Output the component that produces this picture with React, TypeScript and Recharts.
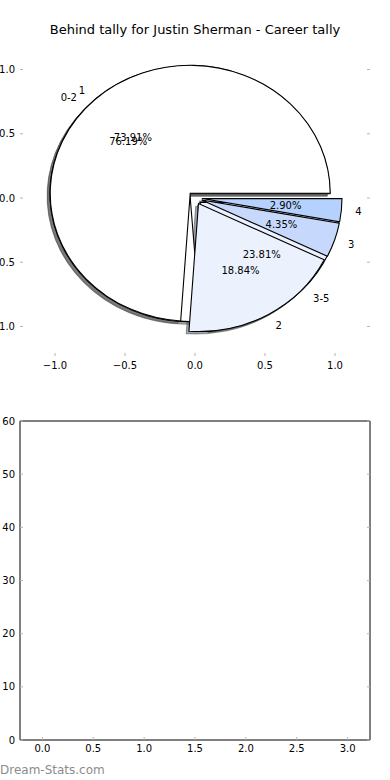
import React from 'react'
import { PieChart, Pie, ScatterChart, Scatter, XAxis, YAxis } from 'recharts'

// inner pie: single tallies, outer pie: grouped tallies
const tallyNames = ['1', '2', '3', '4']
const tallyCounts = [51, 13, 3, 2]
const tallyColors = ['#ffffff', '#ebf2fe', '#c6d9fd', '#b5d2ff']

const groupNames = ['0-2', '3-5']
const groupCounts = [16, 5]
const groupColors = ['#ffffff', '#ebf2fe']

const pieTicks = [-1, -0.5, 0, 0.5, 1]
const barXTicks = [0, 0.5, 1, 1.5, 2, 2.5, 3]
const barYTicks = [0, 10, 20, 30, 40, 50, 60]
const noPoints: { x: number; y: number }[] = []

const tallyData = tallyNames.map((name, i) => ({ name, value: tallyCounts[i] }))
const groupData = groupNames.map((name, i) => ({ name, value: groupCounts[i] }))

// matplotlib draws the pie with unequal axis scaling, so it comes out as an ellipse
const RX = 140
const RY = 128
const EXPLODE = 0.05
const SHADOW_DX = -2.8
const SHADOW_DY = 2.6
const TICK_GREY = '#b4b4b4'
const FONT = '"DejaVu Sans", sans-serif'

function pt(cx: number, cy: number, angle: number, k: number): [number, number] {
  const r = (angle * Math.PI) / 180
  return [cx + k * RX * Math.cos(r), cy - k * RY * Math.sin(r)]
}

function wedgeCenter(p: any): [number, number] {
  const mid = (p.startAngle + p.endAngle) / 2
  return pt(p.cx, p.cy, mid, EXPLODE)
}

function wedgePath(p: any): string {
  const [ox, oy] = wedgeCenter(p)
  const [x1, y1] = pt(ox, oy, p.startAngle, 1)
  const [x2, y2] = pt(ox, oy, p.endAngle, 1)
  const large = Math.abs(p.endAngle - p.startAngle) > 180 ? 1 : 0
  return `M${ox},${oy} L${x1},${y1} A${RX},${RY} 0 ${large} 0 ${x2},${y2} Z`
}

function shade(hex: string): string {
  const n = parseInt(hex.slice(1), 16)
  const r = Math.round(((n >> 16) & 255) * 0.3)
  const g = Math.round(((n >> 8) & 255) * 0.3)
  const b = Math.round((n & 255) * 0.3)
  return `rgb(${r},${g},${b})`
}

const shadowLabel = (colors: string[]) => (p: any) => (
  <path
    d={wedgePath(p)}
    transform={`translate(${SHADOW_DX},${SHADOW_DY})`}
    fill={shade(colors[p.index])}
    fillOpacity={0.5}
    stroke={shade(colors[p.index])}
    strokeOpacity={0.5}
  />
)

const wedgeLabel = (colors: string[]) => (p: any) => (
  <path d={wedgePath(p)} fill={colors[p.index]} stroke="#000" strokeWidth={1.1} />
)

const textLabel = (names: string[]) => (p: any) => {
  const mid = (p.startAngle + p.endAngle) / 2
  const [ox, oy] = wedgeCenter(p)
  const [lx, ly] = pt(ox, oy, mid, 1.1)
  const [tx, ty] = pt(ox, oy, mid, 0.6)
  return (
    <g fontFamily={FONT} fontSize={10} fill="#000">
      <text x={lx} y={ly} textAnchor={lx > 195 ? 'start' : 'end'} dominantBaseline="central">
        {names[p.index]}
      </text>
      <text x={tx} y={ty} textAnchor="middle" dominantBaseline="central">
        {(p.percent * 100).toFixed(2)}%
      </text>
    </g>
  )
}

const fmtPie = (v: number) => (v < 0 ? '\u2212' : '') + Math.abs(v).toFixed(1)
const tickText = { fill: '#000', fontSize: 10, fontFamily: FONT }
const noMargin = { top: 0, right: 0, bottom: 0, left: 0 }
const greyTick = { stroke: TICK_GREY }
const blank = () => <g />

export default function App() {
  const pieProps = {
    dataKey: 'value',
    cx: 195,
    cy: 198,
    outerRadius: RX,
    innerRadius: 0,
    startAngle: 0,
    endAngle: 360,
    fill: 'none',
    stroke: 'none',
    labelLine: false,
    isAnimationActive: false,
  }

  return (
    <div
      style={{
        position: 'absolute',
        left: 0,
        top: 0,
        width: 390,
        height: 780,
        background: '#fff',
        fontFamily: FONT,
      }}
    >
      {/* axes of the pie subplot: ticks only, no spines */}
      <div style={{ position: 'absolute', left: 0, top: 0 }}>
        <ScatterChart width={390} height={380} margin={{ top: 40, right: 20, bottom: 0, left: 0 }}>
          <XAxis
            dataKey="x"
            type="number"
            domain={[-1.25, 1.25]}
            ticks={pieTicks}
            interval={0}
            tickFormatter={fmtPie}
            height={24}
            axisLine={false}
            tickLine={greyTick}
            tickSize={-3}
            tickMargin={9}
            tick={tickText}
            allowDataOverflow
          />
          <XAxis xAxisId="top" orientation="top" type="number" domain={[-1.25, 1.25]} ticks={pieTicks} interval={0} mirror axisLine={false} tick={blank} tickSize={3} tickLine={greyTick} allowDataOverflow />
          <YAxis
            dataKey="y"
            type="number"
            domain={[-1.23, 1.23]}
            ticks={pieTicks}
            interval={0}
            tickFormatter={fmtPie}
            width={20}
            axisLine={false}
            tickLine={greyTick}
            tickSize={-3}
            tickMargin={8}
            tick={tickText}
            allowDataOverflow
          />
          <YAxis yAxisId="right" orientation="right" type="number" domain={[-1.23, 1.23]} ticks={pieTicks} interval={0} mirror axisLine={false} tick={blank} tickSize={3} tickLine={greyTick} allowDataOverflow />
          <Scatter data={noPoints} isAnimationActive={false} />
        </ScatterChart>
      </div>

      <div style={{ position: 'absolute', left: 0, top: 0 }}>
        <PieChart width={390} height={380} margin={noMargin}>
          <Pie {...pieProps} data={groupData} label={shadowLabel(groupColors)} />
          <Pie {...pieProps} data={tallyData} label={shadowLabel(tallyColors)} />
          <Pie {...pieProps} data={groupData} label={wedgeLabel(groupColors)} />
          <Pie {...pieProps} data={tallyData} label={wedgeLabel(tallyColors)} />
          <Pie {...pieProps} data={groupData} label={textLabel(groupNames)} />
          <Pie {...pieProps} data={tallyData} label={textLabel(tallyNames)} />
        </PieChart>
      </div>

      <div
        style={{
          position: 'absolute',
          left: 0,
          top: 22,
          width: 390,
          textAlign: 'center',
          fontSize: 13,
          lineHeight: '16px',
          color: '#000',
        }}
      >
        Behind tally for Justin Sherman - Career tally
      </div>

      {/* empty second subplot */}
      <div style={{ position: 'absolute', left: 0, top: 400 }}>
        <ScatterChart width={390} height={380} margin={{ top: 21, right: 20, bottom: 0, left: 0 }}>
          <XAxis
            dataKey="x"
            type="number"
            domain={[-0.22, 3.22]}
            ticks={barXTicks}
            interval={0}
            tickFormatter={(v: number) => v.toFixed(1)}
            height={40}
            axisLine={{ stroke: '#000' }}
            tickLine={greyTick}
            tickSize={-3}
            tickMargin={8}
            tick={tickText}
            allowDataOverflow
          />
          <XAxis xAxisId="top" orientation="top" type="number" domain={[-0.22, 3.22]} ticks={barXTicks} interval={0} mirror axisLine={{ stroke: '#000' }} tick={blank} tickSize={3} tickLine={greyTick} allowDataOverflow />
          <YAxis
            dataKey="y"
            type="number"
            domain={[0, 60]}
            ticks={barYTicks}
            interval={0}
            width={20}
            axisLine={{ stroke: '#000' }}
            tickLine={greyTick}
            tickSize={-3}
            tickMargin={8}
            tick={tickText}
            allowDataOverflow
          />
          <YAxis yAxisId="right" orientation="right" type="number" domain={[0, 60]} ticks={barYTicks} interval={0} mirror axisLine={{ stroke: '#000' }} tick={blank} tickSize={3} tickLine={greyTick} allowDataOverflow />
          <Scatter data={noPoints} isAnimationActive={false} />
        </ScatterChart>
      </div>

      <div
        style={{
          position: 'absolute',
          left: 0,
          top: 763,
          fontSize: 12,
          lineHeight: '14px',
          color: '#8c8c8c',
        }}
      >
        Dream-Stats.com
      </div>
    </div>
  )
}
